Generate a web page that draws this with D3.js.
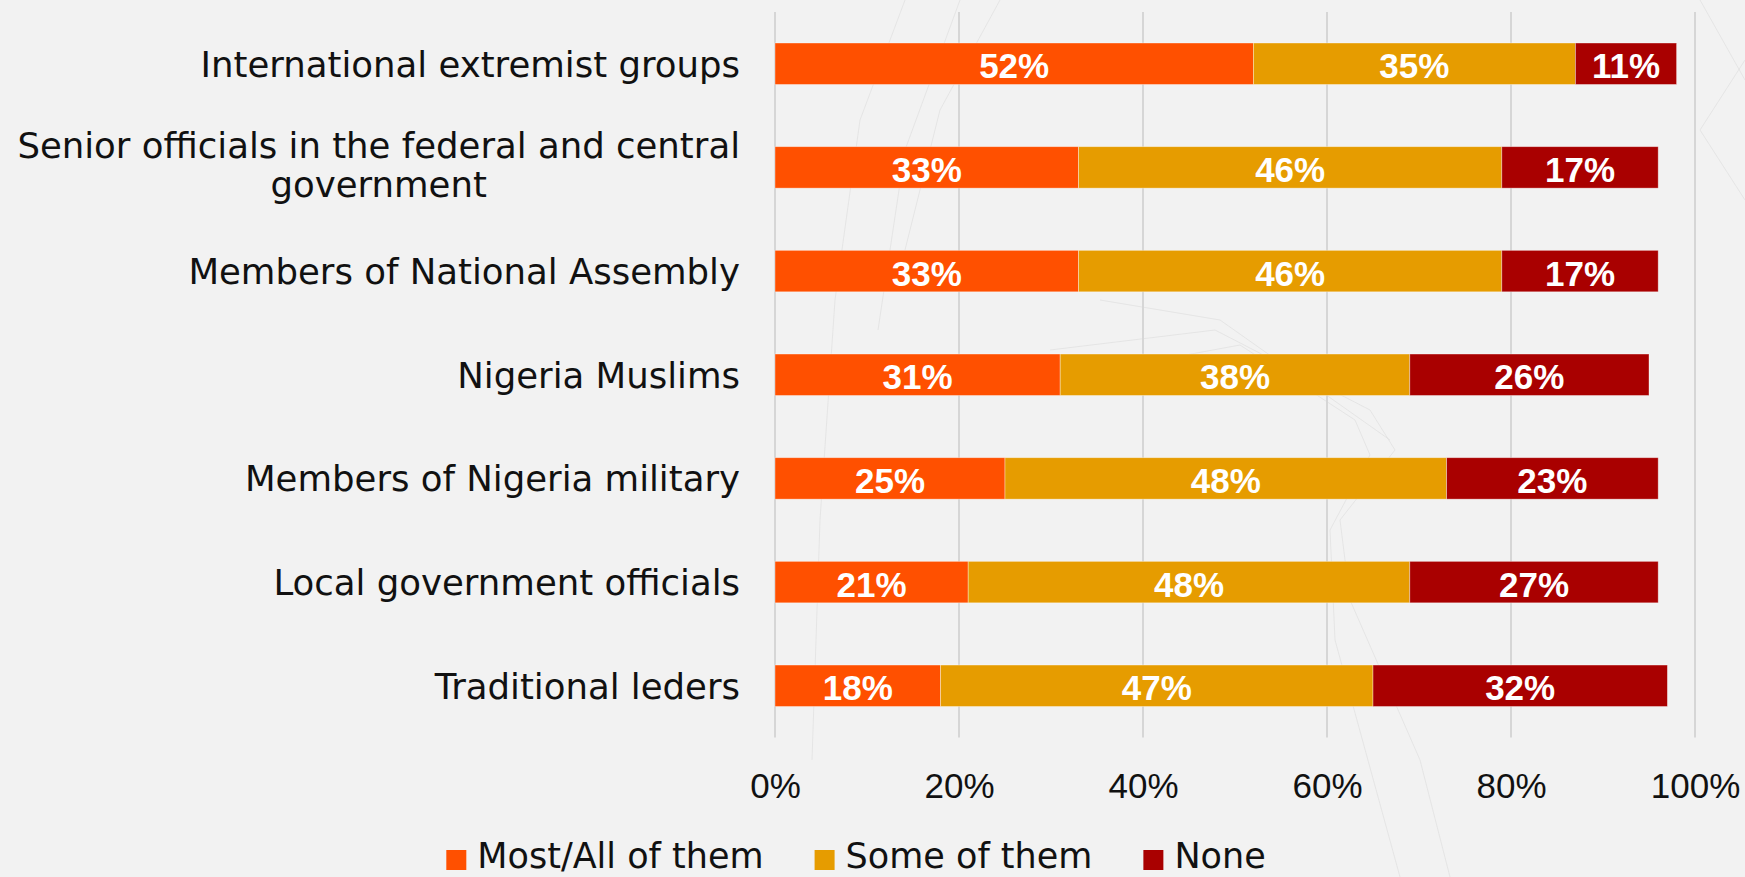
<!DOCTYPE html>
<html>
<head>
<meta charset="utf-8">
<script src="https://cdn.jsdelivr.net/npm/d3@7/dist/d3.min.js"></script>
<style>
  html, body { margin: 0; padding: 0; background: #f2f2f2; }
  svg { display: block; }
</style>
</head>
<body>
<svg id="chart" width="1745" height="877"></svg>
<script>
// Who respondents trust: share answering "Most/All", "Some" or "None" of each group
const categories = [
  "International extremist groups",
  "Senior officials in the federal and central\ngovernment",
  "Members of National Assembly",
  "Nigeria Muslims",
  "Members of Nigeria military",
  "Local government officials",
  "Traditional leders"
];
const mostAll = [52, 33, 33, 31, 25, 21, 18];
const someOf  = [35, 46, 46, 38, 48, 48, 47];
const noneOf  = [11, 17, 17, 26, 23, 27, 32];
const seriesNames = ["Most/All of them", "Some of them", "None"];
const seriesColors = ["#ff5000", "#e69c00", "#a90000"];
const tickValues = [0, 0.2, 0.4, 0.6, 0.8, 1];

const W = 1745, H = 877;
const svg = d3.select("#chart");

// faint decorative background strokes
const deco = [
  [[905,0],[860,120],[835,300],[820,520],[812,760]],
  [[960,0],[905,150],[878,330]],
  [[1000,0],[940,110],[905,250]],
  [[1050,350],[1215,330],[1370,410],[1395,450],[1340,520],[1350,600],[1420,760],[1450,877]],
  [[1050,380],[1240,345],[1355,420],[1370,455],[1330,530],[1335,640],[1400,877]],
  [[1100,300],[1220,320],[1390,440]],
  [[1700,0],[1745,80]],
  [[1745,60],[1700,130],[1745,200]]
];
svg.append("g").selectAll("polyline").data(deco).join("polyline")
  .attr("points", d => d.map(p => p.join(",")).join(" "))
  .attr("fill", "none").attr("stroke", "#d4d4d4").attr("stroke-width", 1).attr("stroke-opacity", 0.45);

const rows = categories.map((c, i) => ({ cat: c, vals: [mostAll[i], someOf[i], noneOf[i]] }));

const x = d3.scaleLinear().domain([0, 1]).range([775, 1695]);
const y = d3.scaleBand().domain(categories).range([11.9, 737.6]).paddingInner(0.6).paddingOuter(0.3);

// vertical gridlines
svg.append("g").selectAll("line").data(tickValues).join("line")
  .attr("x1", d => x(d)).attr("x2", d => x(d))
  .attr("y1", y.range()[0]).attr("y2", y.range()[1])
  .attr("stroke", "#d6d6d6").attr("stroke-width", 2);

// stacked segments
const segs = [];
rows.forEach(r => {
  let acc = 0;
  r.vals.forEach((v, k) => {
    segs.push({ cat: r.cat, k, v, x0: acc, x1: acc + v });
    acc += v;
  });
});

svg.append("g").selectAll("rect").data(segs).join("rect")
  .attr("x", d => x(d.x0 / 100))
  .attr("width", d => x(d.x1 / 100) - x(d.x0 / 100))
  .attr("y", d => y(d.cat))
  .attr("height", y.bandwidth())
  .attr("fill", d => seriesColors[d.k])
  .attr("stroke", "#ffffff").attr("stroke-opacity", 0.45).attr("stroke-width", 0.8);

// value labels
svg.append("g").selectAll("text").data(segs).join("text")
  .attr("x", d => x((d.x0 + d.x1) / 200))
  .attr("y", d => y(d.cat) + y.bandwidth() / 2 + 14.5)
  .attr("text-anchor", "middle")
  .attr("font-family", "'Liberation Sans', Arial, sans-serif")
  .attr("font-weight", "bold")
  .attr("font-size", 35)
  .attr("fill", "#ffffff")
  .text(d => d.v + "%");

// category labels, wrapped lines centred on each other
const labelRight = 740;
const lineH = 39.4;
const catFont = "'DejaVu Sans', sans-serif";
const catG = svg.append("g");
categories.forEach(c => {
  const lines = c.split("\n");
  const cy = y(c) + y.bandwidth() / 2;
  const t = catG.append("text")
    .attr("font-family", catFont).attr("font-size", 35.5).attr("fill", "#111");
  if (lines.length === 1) {
    t.attr("x", labelRight).attr("y", cy + 13).attr("text-anchor", "end").text(c);
  } else {
    const spans = lines.map((ln, i) => t.append("tspan")
      .attr("y", cy + 10 + (i - (lines.length - 1) / 2) * lineH).text(ln));
    const maxW = d3.max(spans, s => s.node().getComputedTextLength());
    const mid = labelRight - maxW / 2;
    spans.forEach(s => s.attr("x", mid));
    t.attr("text-anchor", "middle");
  }
});

// x axis labels
const xAxis = d3.axisBottom(x).tickValues(tickValues).tickSize(0).tickPadding(35.5)
  .tickFormat(d3.format(".0%"));
const axG = svg.append("g").attr("transform", `translate(0,${y.range()[1]})`).call(xAxis);
axG.select(".domain").remove();
axG.selectAll("text")
  .attr("font-family", "'Liberation Sans', Arial, sans-serif")
  .attr("font-size", 35).attr("fill", "#111");

// legend
const legend = svg.append("g");
const items = seriesNames.map((name, i) => {
  const g = legend.append("g");
  g.append("rect").attr("width", 20).attr("height", 20).attr("y", 850).attr("fill", seriesColors[i]);
  const tx = g.append("text").attr("x", 31).attr("y", 868)
    .attr("font-family", catFont).attr("font-size", 35).attr("fill", "#111").text(name);
  return { g, w: 31 + tx.node().getComputedTextLength() };
});
const gap = 51;
const total = d3.sum(items, d => d.w) + gap * (items.length - 1);
let lx = 856 - total / 2;
items.forEach(it => { it.g.attr("transform", `translate(${lx},0)`); lx += it.w + gap; });
</script>
</body>
</html>
